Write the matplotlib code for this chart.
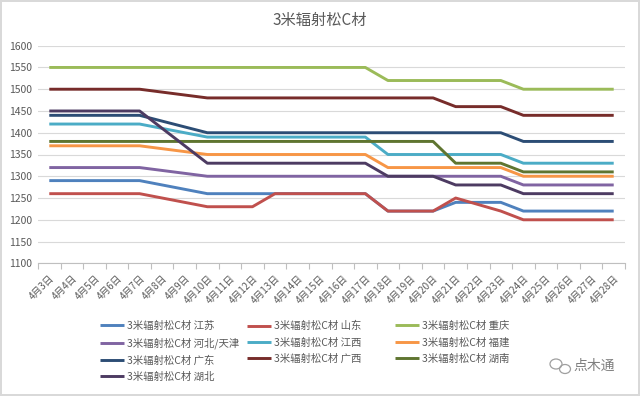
import numpy as np
import matplotlib
matplotlib.use('Agg')
from matplotlib import pyplot as plt
from matplotlib.patches import Ellipse

plt.rcParams['font.family'] = ['Noto Sans CJK SC', 'DejaVu Sans']

#data (day of April, price)
days = [3, 7, 10, 12, 13, 17, 18, 20, 21, 23, 24, 28]
allDays = list(range(3, 29))
tickLabels = ['4月%d日' % d for d in allDays]

jiangsu   = [1290, 1290, 1260, 1260, 1260, 1260, 1220, 1220, 1240, 1240, 1220, 1220]
shandong  = [1260, 1260, 1230, 1230, 1260, 1260, 1220, 1220, 1250, 1220, 1200, 1200]
chongqing = [1550, 1550, 1550, 1550, 1550, 1550, 1520, 1520, 1520, 1520, 1500, 1500]
hebei     = [1320, 1320, 1300, 1300, 1300, 1300, 1300, 1300, 1300, 1300, 1280, 1280]
jiangxi   = [1420, 1420, 1390, 1390, 1390, 1390, 1350, 1350, 1350, 1350, 1330, 1330]
fujian    = [1370, 1370, 1350, 1350, 1350, 1350, 1320, 1320, 1320, 1320, 1300, 1300]
guangdong = [1440, 1440, 1400, 1400, 1400, 1400, 1400, 1400, 1400, 1400, 1380, 1380]
guangxi   = [1500, 1500, 1480, 1480, 1480, 1480, 1480, 1480, 1460, 1460, 1440, 1440]
hunan     = [1380, 1380, 1380, 1380, 1380, 1380, 1380, 1380, 1330, 1330, 1310, 1310]
hubei     = [1450, 1450, 1330, 1330, 1330, 1330, 1300, 1300, 1280, 1280, 1260, 1260]

regions = ['江苏', '山东', '重庆', '河北/天津', '江西', '福建', '广东', '广西', '湖南', '湖北']
series = [jiangsu, shandong, chongqing, hebei, jiangxi, fujian, guangdong, guangxi, hunan, hubei]
colors = ['#4F81BD', '#C0504D', '#9BBB59', '#8064A2', '#4BACC6',
          '#F79646', '#2C4D75', '#772C2A', '#5F7530', '#4D3B62']

fig = plt.figure(figsize=(6.4, 3.96), dpi=100)
fig.patch.set_edgecolor('#D9D9D9')
fig.patch.set_linewidth(1.5)
ax = fig.add_axes([38/640, 1-263.3/396, (625-38)/640, (263.3-45.7)/396])

x = np.array(days) - 3
handles = []
for vals, reg, col in zip(series, regions, colors):
	h, = ax.plot(x, vals, color=col, lw=2.1, label='3米辐射松C材 ' + reg, solid_capstyle='butt')
	handles.append(h)

ax.set_ylim(1100, 1600)
ax.set_yticks(np.arange(1100, 1601, 50))
ax.set_xlim(-0.5, len(allDays) - 0.5)
ax.set_xticks(np.arange(-0.5, len(allDays), 1.0))
ax.set_xticklabels([])
ax.set_xticks(np.arange(len(allDays)), minor=True)
ax.set_xticklabels(tickLabels, minor=True, rotation=45, ha='right', va='top',
	rotation_mode='anchor', fontsize=7, color='#595959')
ax.tick_params(axis='x', which='major', length=4, color='#BFBFBF', direction='out')
ax.tick_params(axis='x', which='minor', length=0, pad=7)
ax.tick_params(axis='y', length=0, labelsize=7.5, labelcolor='#595959', pad=4)

ax.grid(axis='y', color='#D9D9D9', lw=0.8)
ax.set_axisbelow(True)
for s in ['top', 'right', 'left']:
	ax.spines[s].set_visible(False)
ax.spines['bottom'].set_color('#BFBFBF')

fig.text(0.5, 1-20/396, '3米辐射松C材', ha='center', va='center', fontsize=11, color='#595959')

#one legend per column so the columns get equal widths like Excel
colX = [100, 247, 395]
for c in range(3):
	idx = list(range(c, len(handles), 3))
	fig.legend([handles[i] for i in idx], [handles[i].get_label() for i in idx],
		loc='upper left', bbox_to_anchor=(colX[c]/640, 1-321/396), frameon=False,
		fontsize=7.5, handlelength=2.3, handletextpad=0.3, borderpad=0, borderaxespad=0,
		labelspacing=0.6, labelcolor='#595959')

#watermark
fig.patches.append(Ellipse((556/640, 1-364/396), 12/640, 10/396, transform=fig.transFigure,
	fill=False, edgecolor='#9F9F9F', lw=0.9))
fig.patches.append(Ellipse((565/640, 1-369/396), 11/640, 9/396, transform=fig.transFigure,
	fill=False, edgecolor='#9F9F9F', lw=0.9))
fig.text(594/640, 1-366/396, '点木通', ha='center', va='center', fontsize=10, color='#7F7F7F')

plt.savefig('out.png', dpi=100)
